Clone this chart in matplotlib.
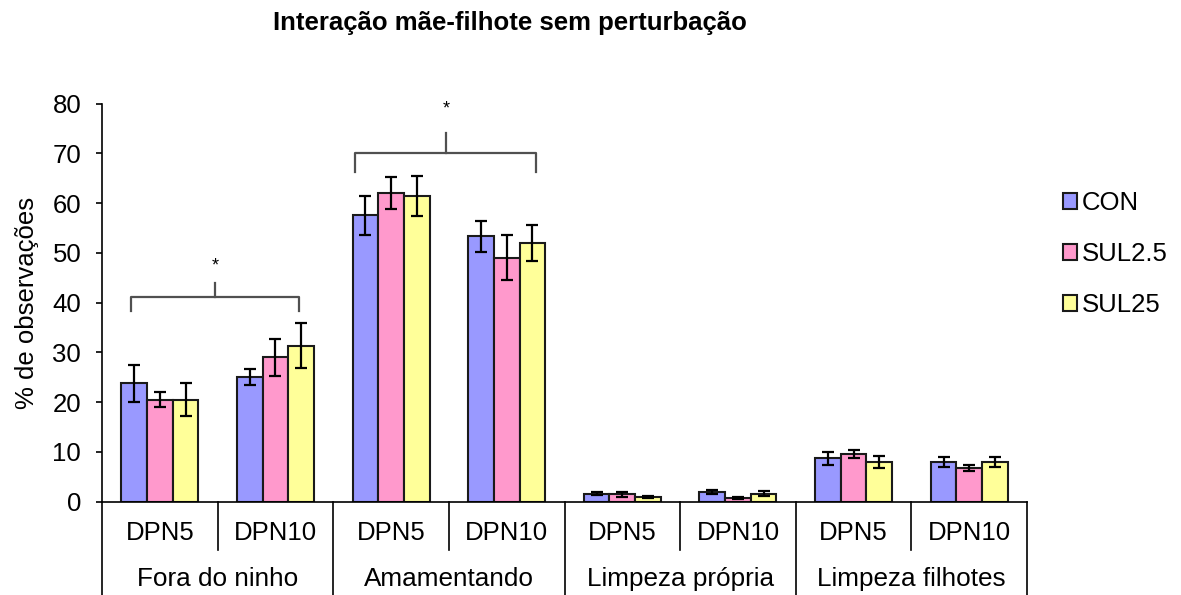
import matplotlib
matplotlib.use("Agg")
import matplotlib.pyplot as plt
import numpy as np

plt.rcParams['font.family'] = ['Liberation Sans', 'DejaVu Sans']

groups = ["Fora do ninho", "Amamentando", "Limpeza própria", "Limpeza filhotes"]
days = ["DPN5", "DPN10"]
series = ["CON", "SUL2.5", "SUL25"]
colors = ["#9999FF", "#FF99CC", "#FFFF99"]

con_vals = [23.8, 25.1, 57.5, 53.3, 1.6, 1.9, 8.7, 8.0]
con_err = [3.7, 1.6, 4.0, 3.1, 0.3, 0.45, 1.3, 1.0]
sul25a_vals = [20.5, 29.0, 62.1, 49.0, 1.5, 0.8, 9.6, 6.7]
sul25a_err = [1.5, 3.7, 3.2, 4.5, 0.5, 0.2, 0.85, 0.65]
sul25_vals = [20.5, 31.3, 61.4, 52.0, 0.9, 1.6, 8.0, 8.0]
sul25_err = [3.3, 4.5, 4.0, 3.6, 0.2, 0.5, 1.2, 1.0]

values = [con_vals, sul25a_vals, sul25_vals]
errors = [con_err, sul25a_err, sul25_err]

fig = plt.figure(figsize=(11.81, 5.95), dpi=100)
ax = fig.add_axes([0.0864, 0.157, 0.7832, 0.669])

n = len(con_vals)
x = np.arange(n)
bw = 0.222
for i, (vals, errs, c, name) in enumerate(zip(values, errors, colors, series)):
    ax.bar(x + (i - 1) * bw, vals, width=bw, color=c, edgecolor="#1a1a1a",
           linewidth=1.5, label=name, zorder=2)
    ax.errorbar(x + (i - 1) * bw, vals, yerr=errs, fmt="none", ecolor="black",
                elinewidth=1.6, capsize=4, capthick=1.6, zorder=3)

ax.set_xlim(-0.5, n - 0.5)
ax.set_ylim(0, 80)
ax.set_yticks(range(0, 81, 10))
ax.tick_params(axis="y", direction="out", length=4, width=1.2, labelsize=18.5, pad=11)
ax.tick_params(axis="x", length=0, labelbottom=False)
for s in ["top", "right"]:
    ax.spines[s].set_visible(False)
ax.spines["left"].set_linewidth(1.2)
ax.spines["bottom"].set_linewidth(1.2)
ax.set_ylabel("% de observações", fontsize=18.5, labelpad=10)

# category table below axis
trans = ax.get_xaxis_transform()
for b in np.arange(-0.5, n, 1.0):
    k = int(round(b + 0.5))
    y0 = -0.235 if k % 2 == 0 else -0.122
    ax.plot([b, b], [0, y0], transform=trans, color="black", lw=1.2,
            clip_on=False)
for j in range(n):
    ax.text(j, -0.079, days[j % 2], transform=trans, ha="center", va="center",
            fontsize=18.5)
for g, name in enumerate(groups):
    ax.text(2 * g + 0.5, -0.195, name, transform=trans, ha="center",
            va="center", fontsize=18.8)

# significance brackets
bracket_color = "#505050"
def bracket(xl, xr, y, drop, rise, star_y):
    ax.plot([xl, xl, xr, xr], [y - drop, y, y, y - drop], color=bracket_color,
            lw=1.6, clip_on=False, zorder=4)
    xm = (xl + xr) / 2
    ax.plot([xm, xm], [y, y + rise], color=bracket_color, lw=1.6,
            clip_on=False, zorder=4)
    ax.text(xm, star_y, "*", ha="center", va="center", fontsize=13,
            clip_on=False)

bracket(-0.247, 1.204, 41.1, 2.8, 2.8, 47.3)
bracket(1.69, 3.256, 70.1, 3.9, 3.9, 79.0)

fig.text(0.432, 0.962, "Interação mãe-filhote sem perturbação", ha="center",
         va="center", fontsize=18.5, fontweight="bold")

leg = fig.legend(loc="center left", bbox_to_anchor=(0.900, 0.573), frameon=False,
                 fontsize=18.5, handlelength=0.55, handleheight=0.55,
                 handletextpad=0.2, labelspacing=1.05, borderaxespad=0,
                 borderpad=0)
for h in leg.legend_handles:
    h.set_linewidth(1.5)

fig.savefig("out.png", dpi=100)
